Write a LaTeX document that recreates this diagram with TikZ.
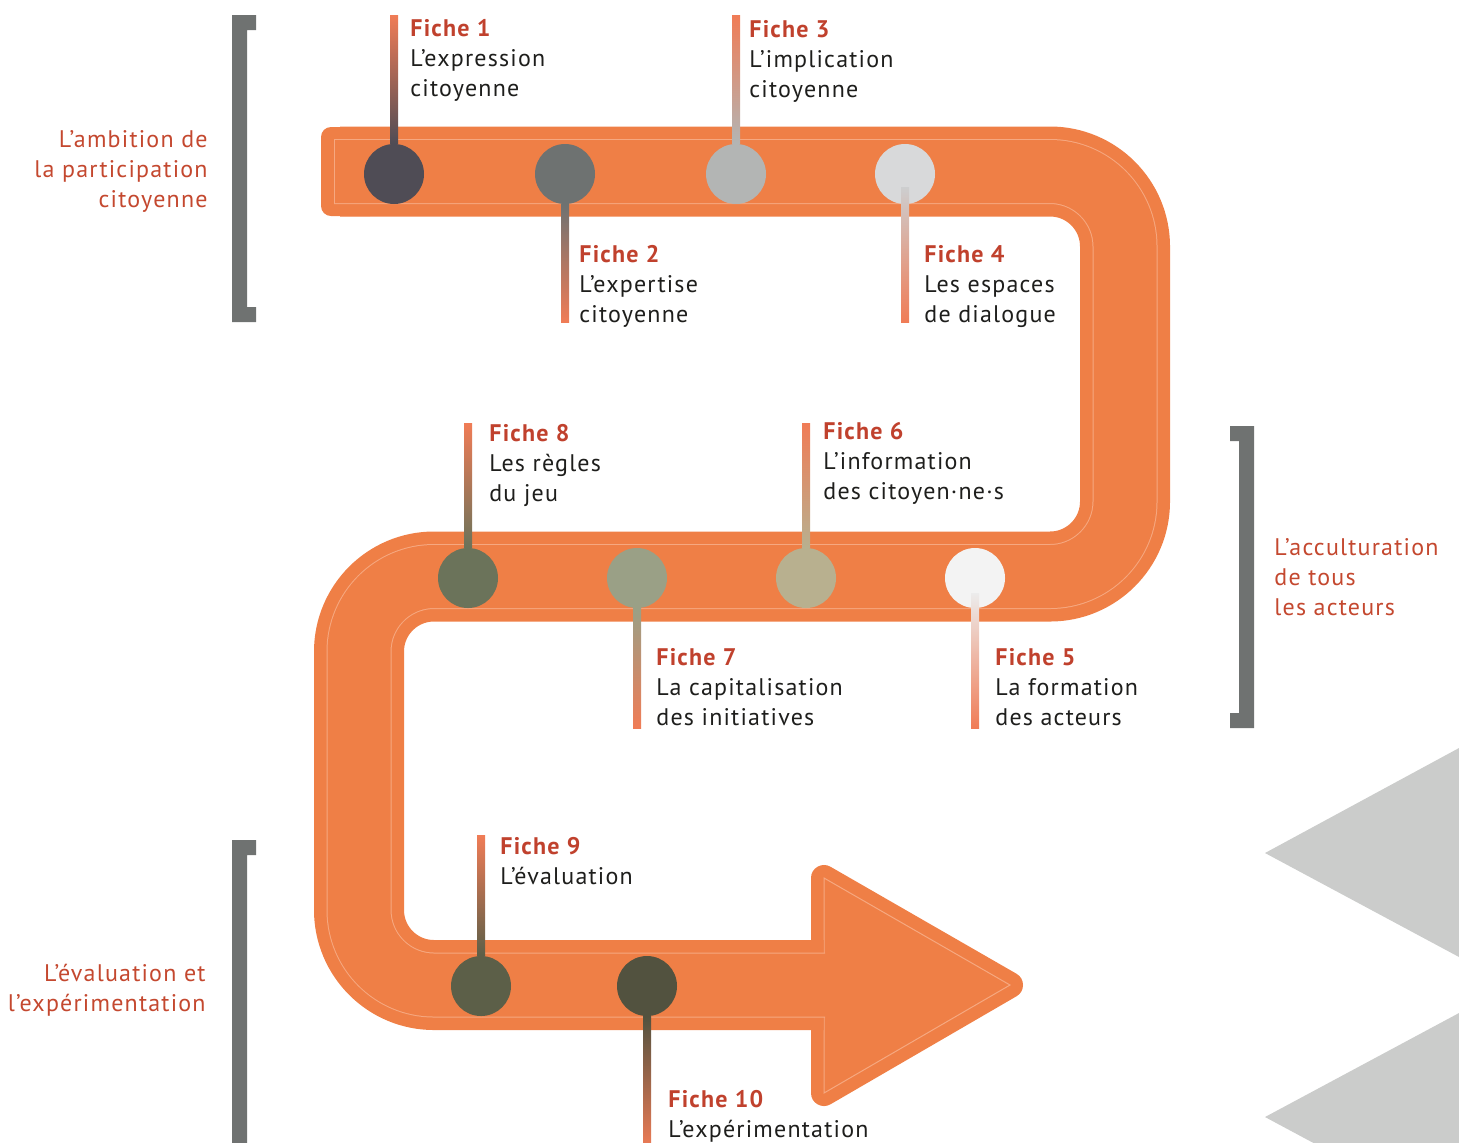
\documentclass[tikz,border=0pt]{standalone}
\usepackage{fontspec}
\setmainfont{PT Sans}[LetterSpace=5]
\definecolor{pathorange}{HTML}{EF7F46}
\definecolor{pathline}{HTML}{F6A880}
\definecolor{stemorange}{HTML}{F07C56}
\definecolor{ficheRed}{HTML}{C0412D}
\definecolor{sideRed}{HTML}{C4482F}
\definecolor{bodyText}{HTML}{1E1E1C}
\definecolor{bracketGray}{HTML}{6F7271}
\definecolor{triGray}{HTML}{CBCCCB}
\definecolor{c1}{HTML}{4F4C55}
\definecolor{c2}{HTML}{6E7271}
\definecolor{c3}{HTML}{B3B5B4}
\definecolor{c4}{HTML}{D8D9DA}
\definecolor{c5}{HTML}{F3F3F3}
\definecolor{c6}{HTML}{B8B08F}
\definecolor{c7}{HTML}{9AA086}
\definecolor{c8}{HTML}{6B735A}
\definecolor{c9}{HTML}{5C5F48}
\definecolor{c10}{HTML}{52523F}

\begin{document}
\begin{tikzpicture}[x=.5pt,y=-.5pt,
  dot/.style={circle,inner sep=0pt,minimum size=30pt},
  fichetxt/.style={anchor=north west,inner sep=0pt,align=left,text=bodyText,font=\fontsize{12}{15}\selectfont},
  sidetxt/.style={inner sep=0pt,text=sideRed,font=\fontsize{12}{15}\selectfont}]
 \path[use as bounding box] (0,0) rectangle (1459,1142);
 \clip (0,0) rectangle (1459,1142);
 % brackets
 \fill[bracketGray] (232,15) -- (256,15) -- (256,30) -- (247,30) -- (247,307) -- (256,307) -- (256,322) -- (232,322) -- cycle;
 \fill[bracketGray] (1230,426) -- (1254,426) -- (1254,728) -- (1230,728) -- (1230,713) -- (1239,713) -- (1239,441) -- (1230,441) -- cycle;
 \fill[bracketGray] (232,840) -- (256,840) -- (256,855) -- (247,855) -- (247,1160) -- (232,1160) -- cycle;
 % grey chevrons
 \fill[triGray] (1265,853) -- (1459,748) -- (1459,957) -- cycle;
 \fill[triGray] (1265,1117) -- (1459,1013) -- (1459,1221) -- cycle;
 % arrow head
 \filldraw[pathorange,line width=13pt,line join=round] (824,878) -- (1010,985) -- (824,1093) -- cycle;
 \draw[pathline,line width=.5pt] (824,878) -- (1010,985) -- (824,1093) -- cycle;
 % road
 \fill[pathorange,rounded corners=5pt] (321,127) rectangle (380,216);
 \draw[pathorange,line width=45pt,rounded corners=37.5pt] (340,171.5) -| (1125,576.5) -| (359,985) -- (823.5,985);
 \draw[pathline,line width=32.5pt,rounded corners=37.5pt] (334,171.5) -| (1125,576.5) -| (359,985) -- (825,985);
 \draw[pathorange,line width=31.5pt,rounded corners=37.5pt] (335,171.5) -| (1125,576.5) -| (359,985) -- (826,985);
 % milestones
 \node[dot,fill=c1] (f1) at (394,174) {};
 \node[dot,fill=c2] (f2) at (565,174) {};
 \node[dot,fill=c3] (f3) at (736,174) {};
 \node[dot,fill=c4] (f4) at (905,174) {};
 \node[dot,fill=c5] (f5) at (975,578) {};
 \node[dot,fill=c6] (f6) at (806,578) {};
 \node[dot,fill=c7] (f7) at (637,578) {};
 \node[dot,fill=c8] (f8) at (468,578) {};
 \node[dot,fill=c9] (f9) at (481,986) {};
 \node[dot,fill=c10] (f10) at (647,986) {};
 \coordinate (t1) at (394,15);
 \coordinate (t2) at (565,322);
 \coordinate (t3) at (736,15);
 \coordinate (t4) at (905,322);
 \coordinate (t5) at (975,728);
 \coordinate (t6) at (806,423);
 \coordinate (t7) at (637,728);
 \coordinate (t8) at (468,423);
 \coordinate (t9) at (481,835);
 \coordinate (t10) at (647,1150);
 % stems
 \shade[top color=stemorange,bottom color=c1] ([xshift=-2pt]t1) rectangle ([xshift=2pt]f1.north);
 \shade[top color=c2,bottom color=stemorange] ([xshift=-2pt]f2.south) rectangle ([xshift=2pt]t2);
 \shade[top color=stemorange,bottom color=c3] ([xshift=-2pt]t3) rectangle ([xshift=2pt]f3.north);
 \shade[top color=c4!95!black,bottom color=stemorange] ([xshift=-2pt,yshift=-6.5pt]f4.center) rectangle ([xshift=2pt]t4);
 \shade[top color=c5!97!black,bottom color=stemorange] ([xshift=-2pt,yshift=-7.5pt]f5.center) rectangle ([xshift=2pt]t5);
 \shade[top color=stemorange,bottom color=c6] ([xshift=-2pt]t6) rectangle ([xshift=2pt]f6.north);
 \shade[top color=c7,bottom color=stemorange] ([xshift=-2pt]f7.south) rectangle ([xshift=2pt]t7);
 \shade[top color=stemorange,bottom color=c8] ([xshift=-2pt]t8) rectangle ([xshift=2pt]f8.north);
 \shade[top color=stemorange,bottom color=c9] ([xshift=-2pt]t9) rectangle ([xshift=2pt]f9.north);
 \shade[top color=c10,bottom color=stemorange] ([xshift=-2pt]f10.south) rectangle ([xshift=2pt]t10);
 % fiche texts
 \node[fichetxt] (n1) at (410,15) {\strut\textcolor{ficheRed}{\bfseries Fiche 1}\\L’expression\\citoyenne};
 \node[fichetxt] (n2) at (579,241) {\strut\textcolor{ficheRed}{\bfseries Fiche 2}\\L’expertise\\citoyenne};
 \node[fichetxt] (n3) at (749,16) {\strut\textcolor{ficheRed}{\bfseries Fiche 3}\\L’implication\\citoyenne};
 \node[fichetxt] (n4) at (924,241) {\strut\textcolor{ficheRed}{\bfseries Fiche 4}\\Les espaces\\de dialogue};
 \node[fichetxt] (n5) at (995,644) {\strut\textcolor{ficheRed}{\bfseries Fiche 5}\\La formation\\des acteurs};
 \node[fichetxt] (n6) at (823,418) {\strut\textcolor{ficheRed}{\bfseries Fiche 6}\\L’information\\des citoyen·ne·s};
 \node[fichetxt] (n7) at (656,644) {\strut\textcolor{ficheRed}{\bfseries Fiche 7}\\La capitalisation\\des initiatives};
 \node[fichetxt] (n8) at (489,420) {\strut\textcolor{ficheRed}{\bfseries Fiche 8}\\Les règles\\du jeu};
 \node[fichetxt] (n9) at (500,833) {\strut\textcolor{ficheRed}{\bfseries Fiche 9}\\L’évaluation};
 \node[fichetxt] (n10) at (668,1086) {\strut\textcolor{ficheRed}{\bfseries Fiche 10}\\L’expérimentation};
 % side labels
 \node[sidetxt,anchor=north east,align=right] (amb) at (208,126) {\strut L’ambition de\\la participation\\citoyenne};
 \node[sidetxt,anchor=north west,align=left] (acc) at (1274,534) {\strut L’acculturation\\de tous\\les acteurs};
 \node[sidetxt,anchor=north east,align=right] (eva) at (206,960) {\strut L’évaluation et\\l’expérimentation};
\end{tikzpicture}
\end{document}
